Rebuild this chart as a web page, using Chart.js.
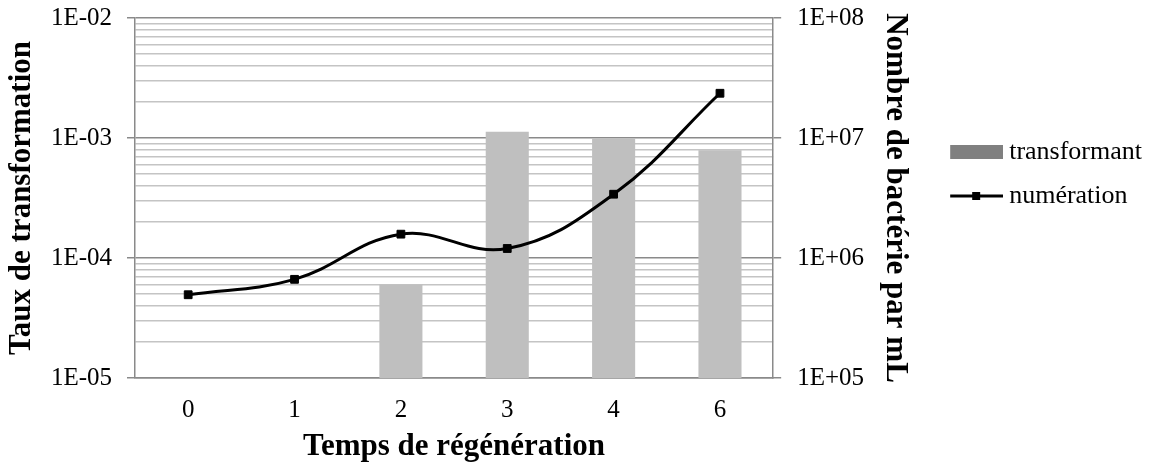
<!DOCTYPE html>
<html>
<head>
<meta charset="utf-8">
<script src="https://cdn.jsdelivr.net/npm/chart.js@4.4.1/dist/chart.umd.min.js"></script>
<style>
  html, body { margin: 0; padding: 0; background: #fff; }
  #wrap { width: 1163px; height: 470px; position: relative; }
</style>
</head>
<body>
<div id="wrap"><canvas id="chart"></canvas></div>
<script>
// data
var categories = ['0', '1', '2', '3', '4', '6'];
var transformant = [null, null, 6.0e-5, 1.13e-3, 9.9e-4, 7.9e-4];
var numeration = [4.94e5, 6.64e5, 1.58e6, 1.2e6, 3.4e6, 2.36e7];

var leftExponents = [-5, -4, -3, -2];
var leftTickLabels = ['1E-05', '1E-04', '1E-03', '1E-02'];
var rightExponents = [5, 6, 7, 8];
var rightTickLabels = ['1E+05', '1E+06', '1E+07', '1E+08'];

var majorGrid = '#8a8a8a';
var minorGrid = '#c4c4c4';

// 1..9 in each decade, plus the top decade
function decadeTicks(exps) {
    var t = [];
    exps.forEach(function (e, i) {
        var base = Math.pow(10, e);
        if (i === exps.length - 1) { t.push({ value: base }); return; }
        for (var m = 1; m < 10; m++) t.push({ value: m * base });
    });
    return t;
}
function isDecade(v) {
    var e = Math.round(Math.log10(v));
    return Math.abs(v / Math.pow(10, e) - 1) < 1e-6;
}
function decadeLabel(v, exps, labels) {
    if (!isDecade(v)) return '';
    var i = exps.indexOf(Math.round(Math.log10(v)));
    return i < 0 ? '' : labels[i];
}
function gridColor(c) {
    return c.tick && isDecade(c.tick.value) ? majorGrid : minorGrid;
}
function tickColor(c) {
    return c.tick && isDecade(c.tick.value) ? majorGrid : 'rgba(0,0,0,0)';
}

// legend swatches
function makeIcon(draw) {
    var c = document.createElement('canvas');
    c.width = 60; c.height = 16;
    draw(c.getContext('2d'));
    return c;
}
var barIcon = makeIcon(function (g) {
    g.fillStyle = '#808080';
    g.fillRect(7, 1, 53, 14);
});
var lineIcon = makeIcon(function (g) {
    g.strokeStyle = '#000'; g.lineWidth = 3;
    g.beginPath(); g.moveTo(7, 8); g.lineTo(60, 8); g.stroke();
    g.fillStyle = '#000'; g.fillRect(29, 4, 8, 8);
});

Chart.defaults.font.family = '"Liberation Serif", "Times New Roman", serif';
Chart.defaults.color = '#000';

var ctx = document.getElementById('chart').getContext('2d');
new Chart(ctx, {
    type: 'bar',
    data: {
        labels: categories,
        datasets: [{
            label: 'numération',
            type: 'line',
            data: numeration,
            yAxisID: 'y2',
            borderColor: '#000',
            borderWidth: 3,
            tension: 0.4,
            pointStyle: 'rect',
            pointRadius: 5.5,
            pointBorderWidth: 1,
            pointBackgroundColor: '#000',
            pointBorderColor: '#000',
            order: 0
        }, {
            label: 'transformant',
            data: transformant,
            yAxisID: 'y',
            backgroundColor: '#bfbfbf',
            barPercentage: 0.405,
            categoryPercentage: 1,
            order: 1
        }]
    },
    options: {
        responsive: true,
        maintainAspectRatio: false,
        animation: false,
        layout: { padding: { left: 0, top: 18, right: 11, bottom: 0 } },
        plugins: {
            tooltip: { enabled: false },
            legend: {
                position: 'right',
                align: 'start',
                maxWidth: 400,
                title: { display: true, text: '', font: { size: 10 }, padding: { top: 91, bottom: 0 } },
                labels: {
                    usePointStyle: true,
                    pointStyleWidth: 46,
                    padding: 18,
                    font: { size: 26 },
                    generateLabels: function () {
                        return [
                            { text: 'transformant', pointStyle: barIcon, fillStyle: '#808080', strokeStyle: 'rgba(0,0,0,0)', lineWidth: 0, datasetIndex: 1, hidden: false },
                            { text: 'numération', pointStyle: lineIcon, fillStyle: '#000', strokeStyle: 'rgba(0,0,0,0)', lineWidth: 0, datasetIndex: 0, hidden: false }
                        ];
                    }
                }
            }
        },
        scales: {
            x: {
                type: 'category',
                offset: true,
                grid: { display: false, drawTicks: false },
                border: { color: majorGrid, width: 1.5 },
                ticks: { padding: 17, font: { size: 25 } },
                afterFit: function (s) { s.height = 92; },
                title: {
                    display: true,
                    text: 'Temps de régénération',
                    font: { size: 31, weight: 'bold' },
                    padding: { top: 0, bottom: 4.4 }
                }
            },
            y: {
                type: 'logarithmic',
                position: 'left',
                min: 1e-5,
                max: 1e-2,
                afterBuildTicks: function (s) { s.ticks = decadeTicks(leftExponents); },
                afterFit: function (s) { s.width = 135; },
                ticks: {
                    autoSkip: false,
                    padding: 15,
                    font: { size: 25, lineHeight: 0.1 },
                    callback: function (v) { return decadeLabel(v, leftExponents, leftTickLabels); }
                },
                grid: { color: gridColor, lineWidth: 1.5, tickLength: 8, tickColor: tickColor },
                border: { color: majorGrid, width: 1.5 },
                title: {
                    display: true,
                    text: 'Taux de transformation',
                    font: { size: 31, weight: 'bold' },
                    padding: { top: 3.4, bottom: 0 }
                }
            },
            y2: {
                type: 'logarithmic',
                position: 'right',
                min: 1e5,
                max: 1e8,
                afterBuildTicks: function (s) { s.ticks = decadeTicks(rightExponents); },
                afterFit: function (s) { s.width = 159; },
                ticks: {
                    autoSkip: false,
                    padding: 16,
                    font: { size: 25, lineHeight: 0.1 },
                    callback: function (v) { return decadeLabel(v, rightExponents, rightTickLabels); }
                },
                grid: { drawOnChartArea: false, lineWidth: 1.5, tickLength: 8, tickColor: tickColor },
                border: { color: majorGrid, width: 1.5 },
                title: {
                    display: true,
                    text: 'Nombre de bactérie par mL',
                    font: { size: 31, weight: 'bold' },
                    padding: { top: 18.4, bottom: 0 }
                }
            }
        }
    }
});
</script>
</body>
</html>
